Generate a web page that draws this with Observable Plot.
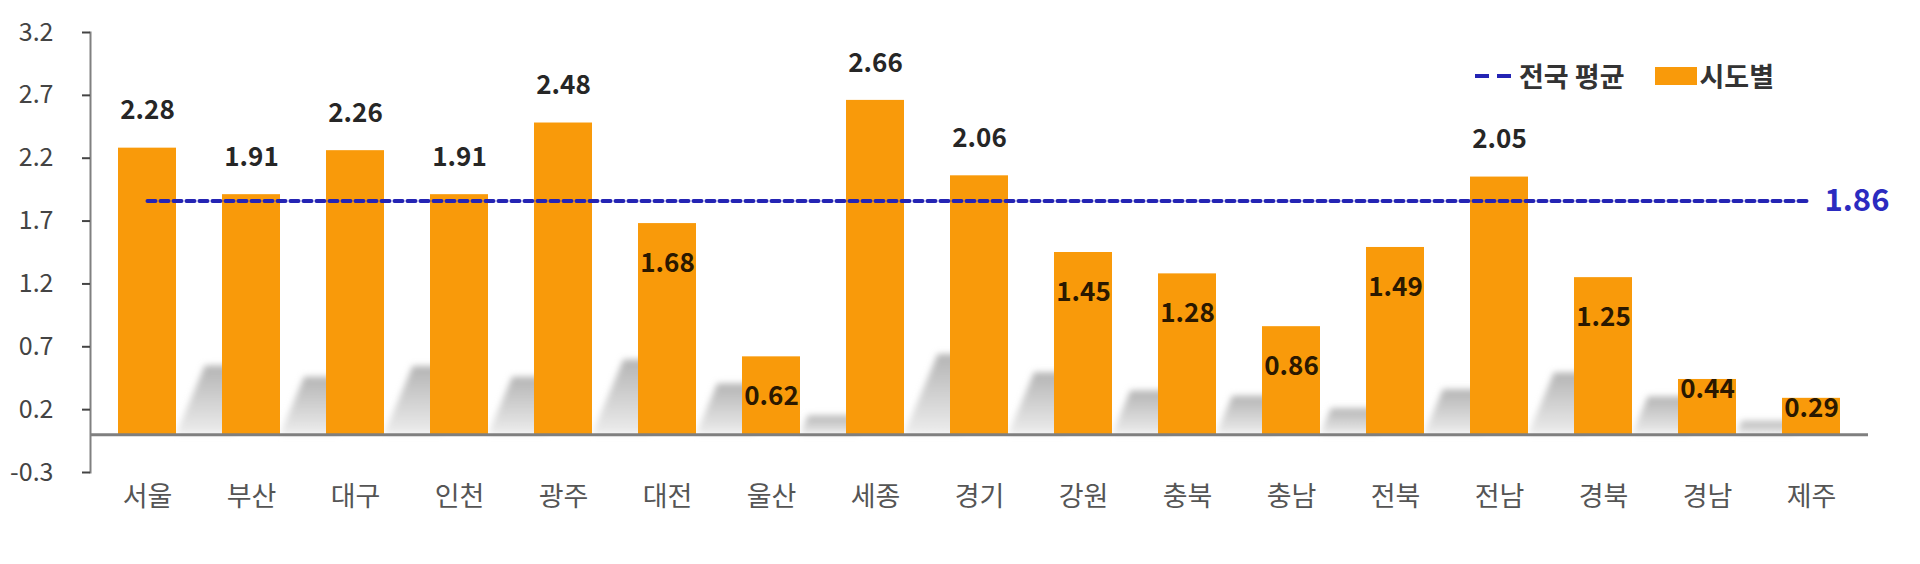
<!DOCTYPE html>
<html>
<head>
<meta charset="utf-8">
<script src="https://cdn.jsdelivr.net/npm/d3@7"></script>
<script src="https://cdn.jsdelivr.net/npm/@observablehq/plot@0.6"></script>
<style>
  html, body { margin: 0; padding: 0; background: #fff; }
  #wrap { position: relative; width: 1920px; height: 564px; font-family: "Noto Sans CJK KR", "Noto Sans", sans-serif; }
  #legend { position: absolute; left: 1475px; top: 56px; display: flex; align-items: center; font-size: 27px; font-weight: bold; color: #333; white-space: nowrap; }
  #legend .swatch { display: inline-block; width: 42px; height: 18px; background: #F99A0A; margin-left: 30px; margin-right: 3px; }
  #legend .dash { margin-right: 6px; }
</style>
</head>
<body>
<div id="wrap">
  <div id="chart"></div>
  <div id="legend"></div>
</div>
<script>
// ---- data ----
const categories = ["서울","부산","대구","인천","광주","대전","울산","세종","경기","강원","충북","충남","전북","전남","경북","경남","제주"];
const values = [2.28, 1.91, 2.26, 1.91, 2.48, 1.68, 0.62, 2.66, 2.06, 1.45, 1.28, 0.86, 1.49, 2.05, 1.25, 0.44, 0.29];
const nationalAverage = 1.86;
const yTicks = [-0.3, 0.2, 0.7, 1.2, 1.7, 2.2, 2.7, 3.2];
const legendLabels = ["전국 평균", "시도별"];

// ---- styles ----
const barColor = "#F99A0A";
const avgColor = "#2424B4";
const font = "'Noto Sans CJK KR', 'Noto Sans', sans-serif";

const data = categories.map((c, i) => ({region: c, value: values[i]}));
const above = data.filter(d => d.value >= nationalAverage);
const inside = data.filter(d => d.value < nationalAverage && d.value >= 0.5);
const low = data.filter(d => d.value < 0.5);
const shadowData = data.slice(0, -1);
const shadowRatio = 0.24;

const labelStyle = {x: "region", y: "value", text: d => d.value.toFixed(2), fontSize: 26, fontWeight: "bold", fontFamily: font};

const chart = Plot.plot({
  width: 1920,
  height: 564,
  marginTop: 32,
  marginBottom: 92,
  marginLeft: 90,
  marginRight: 52,
  style: {fontFamily: font, background: "transparent", overflow: "visible"},
  x: {domain: categories, paddingInner: 0.44, paddingOuter: 0.22, axis: null, label: null},
  y: {domain: [-0.3, 3.2], axis: null, label: null},
  marks: [
    Plot.rectY(shadowData, {x: "region", y: d => d.value * shadowRatio, dx: 58, fill: "url(#shadowGrad)"}),
    Plot.barY(data, {x: "region", y: "value", fill: barColor}),
    Plot.ruleY([0], {stroke: "#7f7f7f", strokeWidth: 3}),
    Plot.frame({anchor: "left", stroke: "#808080", strokeWidth: 2}),
    Plot.axisY(yTicks, {anchor: "left", tickSize: 8, tickPadding: 29, tickFormat: d => d.toFixed(1), fontSize: 25, color: "#444", strokeWidth: 2, fontFamily: font}),
    Plot.axisX({anchor: "bottom", tickSize: 0, tickPadding: 14, fontSize: 27, color: "#555", fontFamily: font}),
    Plot.lineY(categories, {x: d => d, y: () => nationalAverage, stroke: avgColor, strokeWidth: 4, strokeDasharray: "8,5"}),
    Plot.text([nationalAverage], {x: () => categories[categories.length - 1], y: d => d, text: d => d.toFixed(2), textAnchor: "start", dx: 13, fill: "#2B2BC0", fontSize: 31, fontWeight: "bold", fontFamily: font}),
    Plot.text(above, {...labelStyle, dy: -37, fill: "#262626"}),
    Plot.text(inside, {...labelStyle, dy: 40, fill: "#2a1800"}),
    Plot.text(low, {...labelStyle, dy: 10, fill: "#2a1800"})
  ]
});

// shadow styling: gradient, blur and skew anchored at the zero baseline
const svg = d3.select(chart);
const defs = svg.insert("defs", ":first-child");
const grad = defs.append("linearGradient").attr("id", "shadowGrad").attr("x1", 0).attr("y1", 0).attr("x2", 0).attr("y2", 1);
grad.append("stop").attr("offset", "0%").attr("stop-color", "#b4b4b4");
grad.append("stop").attr("offset", "100%").attr("stop-color", "#ededed");
defs.append("filter").attr("id", "shadowBlur").attr("x", "-20%").attr("y", "-20%").attr("width", "140%").attr("height", "140%")
  .append("feGaussianBlur").attr("stdDeviation", 3);
const base = chart.scale("y").apply(0);
const k = 0.42;
const shadowGroup = svg.selectAll('g[aria-label="rect"]');
shadowGroup.attr("filter", "url(#shadowBlur)")
  .selectAll("rect")
  .attr("transform", function () {
    const t = this.getAttribute("transform") || "";
    return `translate(${k * base},0) skewX(${-Math.atan(k) * 180 / Math.PI}) ${t}`;
  });

document.getElementById("chart").appendChild(chart);

// legend
const legend = d3.select("#legend");
const dash = legend.append("svg").attr("class", "dash").attr("width", 38).attr("height", 8);
dash.append("line").attr("x1", 0).attr("x2", 38).attr("y1", 4).attr("y2", 4)
  .attr("stroke", avgColor).attr("stroke-width", 4).attr("stroke-dasharray", "14,8");
legend.append("span").text(legendLabels[0]);
legend.append("span").attr("class", "swatch");
legend.append("span").text(legendLabels[1]);
</script>
</body>
</html>
